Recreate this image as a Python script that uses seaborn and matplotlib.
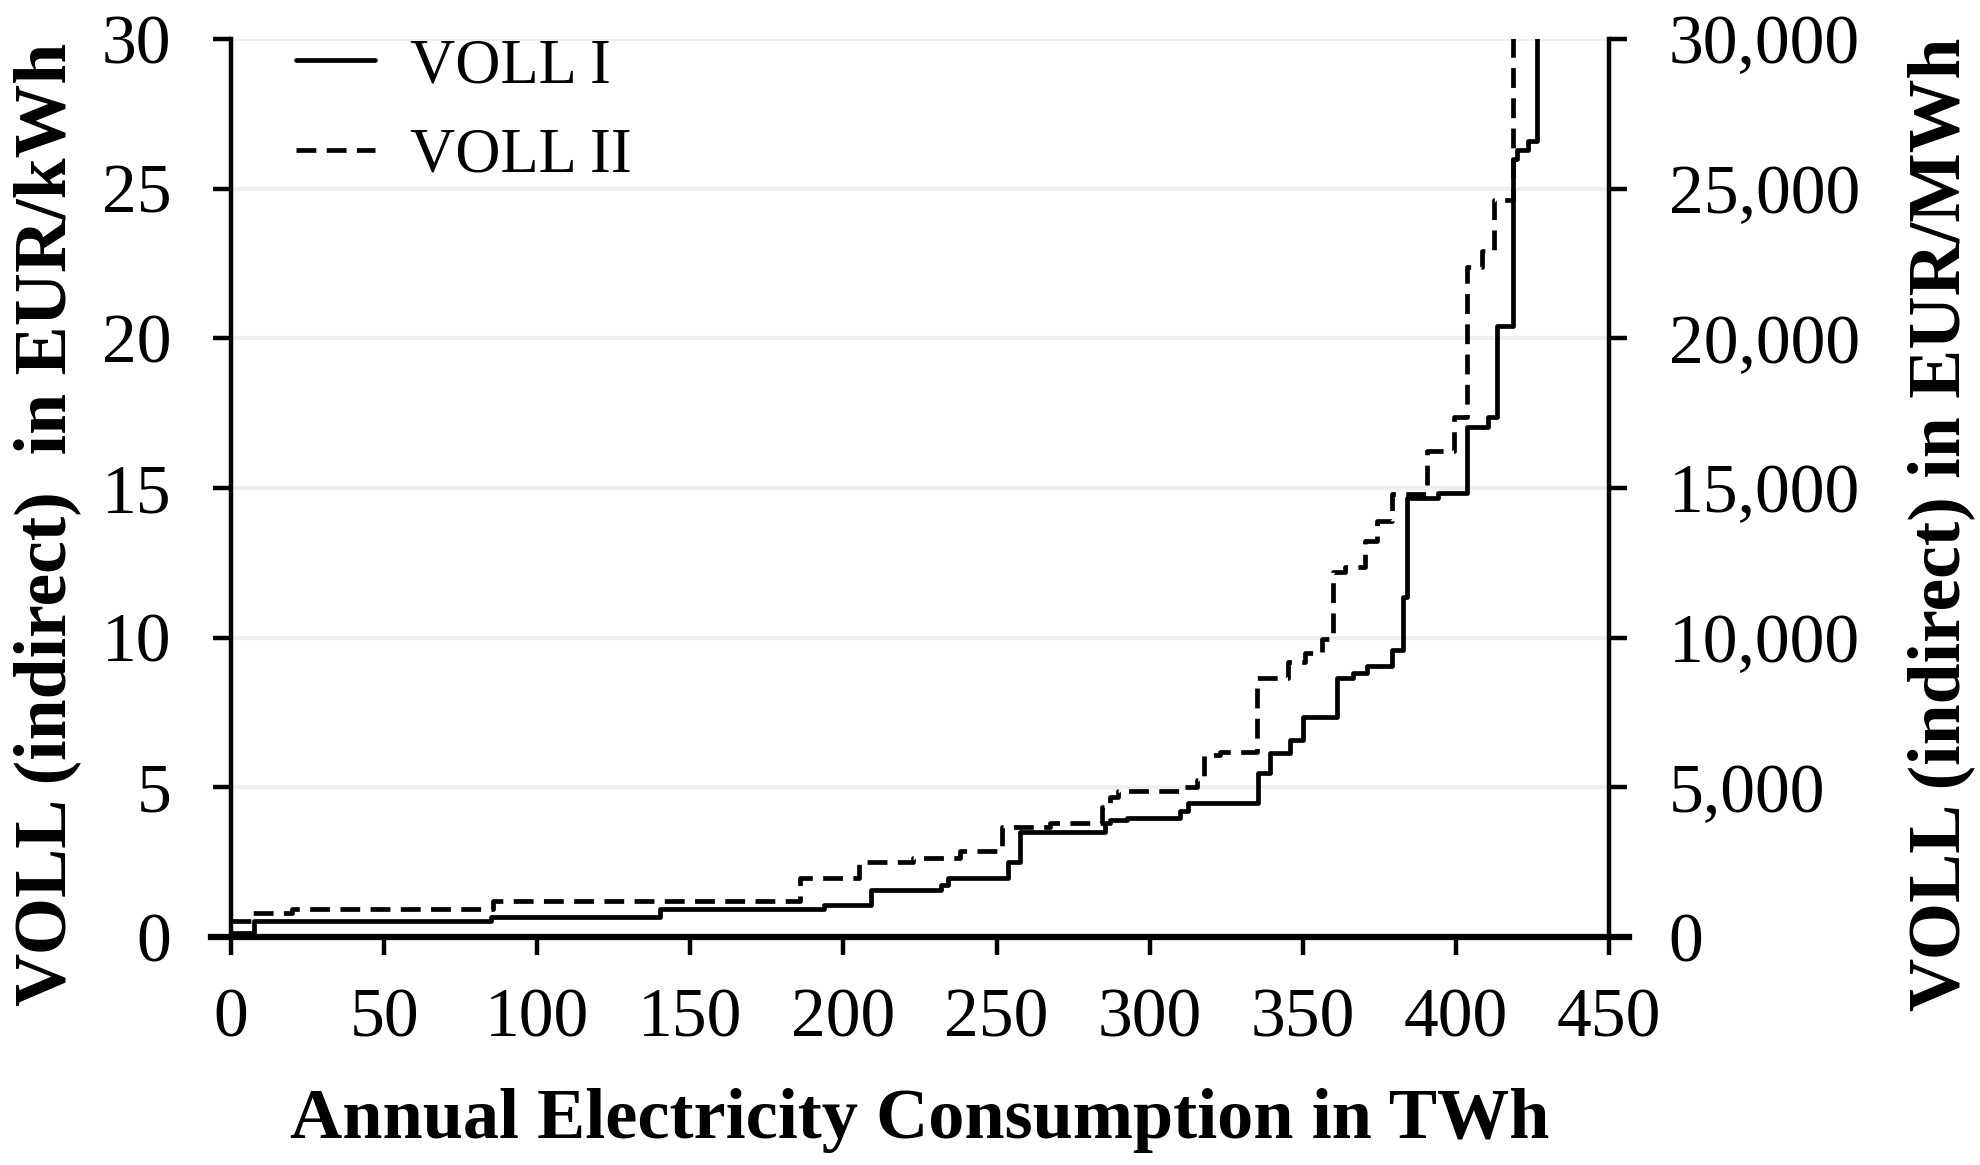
import matplotlib
matplotlib.use('Agg')
import matplotlib.pyplot as plt
import seaborn as sns
import pandas as pd
from matplotlib.ticker import FuncFormatter

# step curves: consumption (TWh) where each level starts, VOLL level in EUR/kWh
voll1_twh = [0, 7.5, 85, 140, 193.7, 209, 232, 234, 253.8, 257.7, 285.4, 287, 292.5,
             310, 312.5, 335.5, 339.3, 345.9, 350, 361.3, 366.4, 371, 379, 382.9, 384,
             394.3, 403.5, 410.6, 413.3, 418.8, 419.9, 423.7, 426.4]
voll1_eur = [0.12, 0.53, 0.68, 0.94, 1.07, 1.57, 1.75, 1.96, 2.52, 3.52, 3.82, 3.91, 3.97,
             4.2, 4.47, 5.49, 6.16, 6.58, 7.36, 8.64, 8.81, 9.05, 9.59, 11.37, 14.66,
             14.82, 17.04, 17.38, 20.41, 26.0, 26.3, 26.6, 32]

voll2_twh = [0, 7, 20, 85.6, 185.8, 205.2, 222.8, 238, 251.7, 267.5, 284.3, 287, 289.7,
             311.6, 315.4, 317.6, 323, 335.2, 345.3, 350.8, 356.2, 360, 363.8, 370.3,
             374.2, 379.3, 390.5, 399.4, 403.5, 408.5, 412.3, 418.6]
voll2_eur = [0.53, 0.81, 0.93, 1.19, 1.98, 2.50, 2.63, 2.87, 3.66, 3.80, 4.35, 4.68, 4.88,
             5.02, 5.25, 6.08, 6.19, 8.64, 9.20, 9.48, 9.95, 12.21, 12.35, 13.24,
             13.91, 14.79, 16.25, 17.38, 22.37, 22.93, 24.62, 32]

x_ticks = list(range(0, 451, 50))
y_ticks = list(range(0, 31, 5))
y2_ticks = list(range(0, 30001, 5000))

sns.set_style('ticks')
plt.rcParams['font.family'] = ['Liberation Serif', 'DejaVu Serif']
for key in ['text.color', 'axes.labelcolor', 'xtick.color', 'ytick.color', 'axes.edgecolor']:
    plt.rcParams[key] = 'black'

fig = plt.figure(figsize=(19.8, 11.65), dpi=100)
ax = fig.add_axes([0.1167, 0.1957, 0.8126 - 0.1167, 0.9665 - 0.1957])

df1 = pd.DataFrame({'twh': voll1_twh, 'eur': voll1_eur})
df2 = pd.DataFrame({'twh': voll2_twh, 'eur': voll2_eur})

sns.lineplot(data=df1, x='twh', y='eur', ax=ax, color='black', lw=3.4,
             drawstyle='steps-post', sort=False, estimator=None, label='VOLL I', zorder=3)
sns.lineplot(data=df2, x='twh', y='eur', ax=ax, color='black', lw=3.4,
             drawstyle='steps-post', sort=False, estimator=None, label='VOLL II', zorder=3,
             linestyle=(0, (4.2, 2.2)))

ax.set_xlim(0, 450)
ax.set_ylim(0, 30)
ax.set_xticks(x_ticks)
ax.set_yticks(y_ticks)
ax.grid(axis='y', color='#efefef', lw=3.0, zorder=0)
ax.set_axisbelow(True)

ax.spines['left'].set_linewidth(3.2)
ax.spines['bottom'].set_linewidth(4.5)
ax.spines['top'].set_visible(False)
ax.spines['right'].set_visible(False)
ax.spines['bottom'].set_bounds(-6.5, 456.5)
ax.tick_params(axis='both', labelsize=50, width=3.2, length=13, direction='out')
ax.tick_params(axis='y', pad=30)
ax.tick_params(axis='x', pad=24)

ax.set_xlabel('Annual Electricity Consumption in TWh', fontsize=52,
              fontweight='bold', labelpad=26)
ax.set_ylabel('VOLL (indirect)  in EUR/kWh', fontsize=53, fontweight='bold', labelpad=15)
ax.yaxis.label.set_y(0.46)

ax2 = ax.twinx()
ax2.set_ylim(0, 30000)
ax2.set_yticks(y2_ticks)
ax2.yaxis.set_major_formatter(FuncFormatter(lambda v, p: '{:,.0f}'.format(v)))
ax2.tick_params(axis='y', labelsize=50, width=3.2, length=13, pad=30)
for s in ['left', 'bottom', 'top']:
    ax2.spines[s].set_visible(False)
ax2.spines['right'].set_linewidth(3.2)
ax2.set_ylabel('VOLL (indirect) in EUR/MWh', fontsize=53, fontweight='bold', labelpad=34)
ax2.yaxis.label.set_y(0.46)

ax.legend(loc='upper left', bbox_to_anchor=(0.047, 1.001), frameon=False,
          fontsize=45, handlelength=1.27, handletextpad=0.56, labelspacing=0.5,
          borderpad=0, borderaxespad=0)

fig.savefig('out.png', dpi=100)
